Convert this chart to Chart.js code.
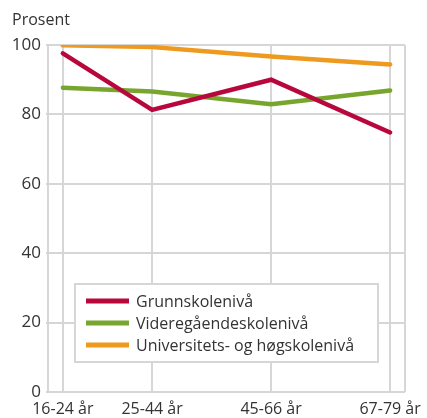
<!DOCTYPE html>
<html>
<head>
<meta charset="utf-8">
<script src="https://cdn.jsdelivr.net/npm/chart.js@4/dist/chart.umd.min.js"></script>
<style>
  html, body { margin: 0; padding: 0; background: #ffffff; }
  #wrap { width: 427px; height: 418px; position: relative; }
</style>
</head>
<body>
<div id="wrap"><canvas id="c" width="427" height="418"></canvas></div>
<script>
// ---- data ----
const categories = ["16-24 år", "25-44 år", "45-66 år", "67-79 år"];
const agePoints = [20, 35, 55, 75];
const grunnskole = [97.6, 81.3, 90.0, 74.8];
const videregaende = [87.7, 86.6, 82.9, 86.9];
const universitet = [99.9, 99.4, 96.7, 94.4];
const yTicks = [0, 20, 40, 60, 80, 100];
const yTitle = "Prosent";
const seriesNames = ["Grunnskolenivå", "Videregåendeskolenivå", "Universitets- og høgskolenivå"];

const FONT = "'Open Sans', 'Noto Sans', sans-serif";
const TXT = "#333333";
const GRID = "#d6d6d6";

function pts(vals) { return vals.map((v, i) => ({ x: agePoints[i], y: v })); }

const legendPlugin = {
  id: 'insideLegend',
  afterDraw(chart) {
    const ctx = chart.ctx;
    const ca = chart.chartArea;
    const x0 = ca.left + 27, y0 = ca.top + 239, w = 303, h = 78;
    ctx.save();
    ctx.fillStyle = "#ffffff";
    ctx.fillRect(x0, y0, w, h);
    ctx.strokeStyle = GRID;
    ctx.lineWidth = 2;
    ctx.strokeRect(x0, y0, w, h);
    ctx.font = "16px " + FONT;
    ctx.textBaseline = "middle";
    chart.data.datasets.forEach((ds, i) => {
      const cy = y0 + 17 + i * 22;
      ctx.fillStyle = ds.borderColor;
      ctx.fillRect(x0 + 11, cy - 2.5, 43, 5);
      ctx.fillStyle = TXT;
      ctx.fillText(ds.label, x0 + 61, cy + 1);
    });
    ctx.font = "16px " + FONT;
    ctx.textBaseline = "middle";
    ctx.textAlign = "left";
    ctx.fillText(yTitle, 12, 20);
    ctx.restore();
  }
};

new Chart(document.getElementById('c'), {
  type: 'line',
  data: {
    datasets: [
      { label: seriesNames[0], data: pts(grunnskole), borderColor: "#b8073c" },
      { label: seriesNames[1], data: pts(videregaende), borderColor: "#77a52e" },
      { label: seriesNames[2], data: pts(universitet), borderColor: "#ee9a1f" }
    ].map(d => Object.assign(d, { borderWidth: 4.5, pointRadius: 0, tension: 0, fill: false, borderCapStyle: 'round' }))
  },
  options: {
    responsive: false,
    animation: false,
    layout: { padding: { top: 45, right: 22, left: 0, bottom: 0 } },
    plugins: { legend: { display: false }, tooltip: { enabled: false } },
    scales: {
      x: {
        type: 'linear',
        min: 17.5, max: 77.5,
        afterBuildTicks(scale) {
          scale.ticks = [17.5].concat(agePoints, [77.5]).map(v => ({ value: v }));
        },
        afterFit(scale) { scale.height = 26; },
        ticks: {
          autoSkip: false, maxRotation: 0,
          font: { family: FONT, size: 16 }, color: TXT, padding: 8,
          callback(v) { const i = agePoints.indexOf(v); return i >= 0 ? categories[i] : ""; }
        },
        grid: { color: GRID, lineWidth: 2, drawTicks: false },
        border: { display: false }
      },
      y: {
        min: 0, max: 100,
        afterBuildTicks(scale) { scale.ticks = yTicks.map(v => ({ value: v })); },
        afterFit(scale) { scale.width = 48; },
        ticks: { font: { family: FONT, size: 17 }, color: TXT, padding: 5 },
        grid: { color: GRID, lineWidth: 2, drawTicks: true, tickLength: 2 },
        border: { display: true, color: GRID, width: 2 }
      }
    }
  },
  plugins: [legendPlugin]
});
</script>
</body>
</html>
